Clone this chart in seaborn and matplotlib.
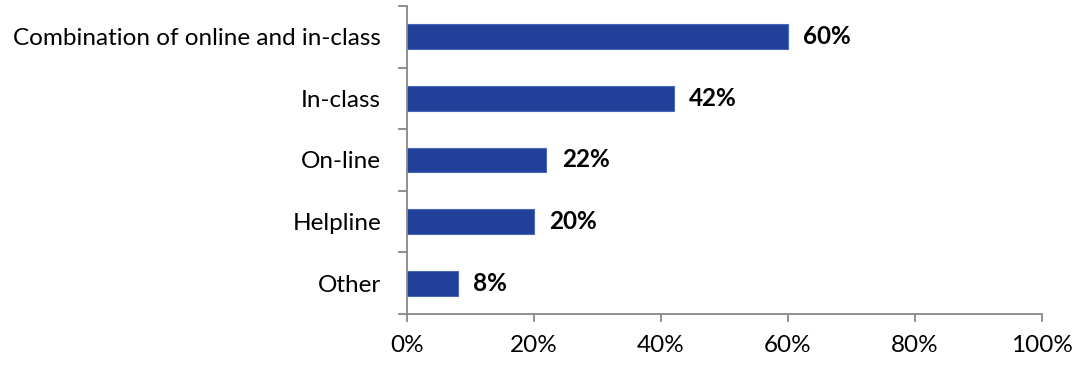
import matplotlib
matplotlib.use("Agg")
import matplotlib.pyplot as plt
import seaborn as sns
import pandas as pd

categories = ["Combination of online and in-class", "In-class", "On-line", "Helpline", "Other"]
values = [60, 42, 22, 20, 8]
xticks = [0, 20, 40, 60, 80, 100]
xtick_labels = ["0%", "20%", "40%", "60%", "80%", "100%"]

sns.set_theme(style="white")
plt.rcParams["font.family"] = ["Lato", "DejaVu Sans"]

df = pd.DataFrame({"category": categories, "value": values})

fig = plt.figure(figsize=(10.76, 3.65), dpi=100)
ax = fig.add_axes([0.378, 0.1397, 0.5904, 0.8439])

sns.barplot(data=df, y="category", x="value", orient="h", color="#21409A",
            width=0.4, edgecolor="#4a68b8", linewidth=0.8, saturation=1, ax=ax)

FS = 17.5
ax.set_xlim(0, 100)
ax.set_ylim(len(categories) - 0.5, -0.5)
ax.set_xticks(xticks)
ax.set_xticklabels(xtick_labels, fontsize=FS, color="black")
ax.set_yticks([i - 0.5 for i in range(len(categories) + 1)], minor=True)
ax.set_yticks(range(len(categories)))
ax.set_yticklabels(categories, fontsize=FS, color="black")
ax.tick_params(axis="y", which="major", left=False, length=0, pad=18.5)
ax.tick_params(axis="y", which="minor", left=True, length=6.5, width=1.3,
               color="#888888", direction="out")
ax.tick_params(axis="x", bottom=True, length=6, width=1.3, color="#888888",
               direction="out", pad=9)
ax.set_xlabel("")
ax.set_ylabel("")

for side in ["top", "right"]:
    ax.spines[side].set_visible(False)
for side in ["left", "bottom"]:
    ax.spines[side].set_color("#888888")
    ax.spines[side].set_linewidth(1.3)

for i, v in enumerate(values):
    ax.text(v + 2.4, i, f"{v}%", va="center", ha="left", fontsize=FS,
            fontweight="bold", color="black")

fig.savefig("out.png", dpi=100)
